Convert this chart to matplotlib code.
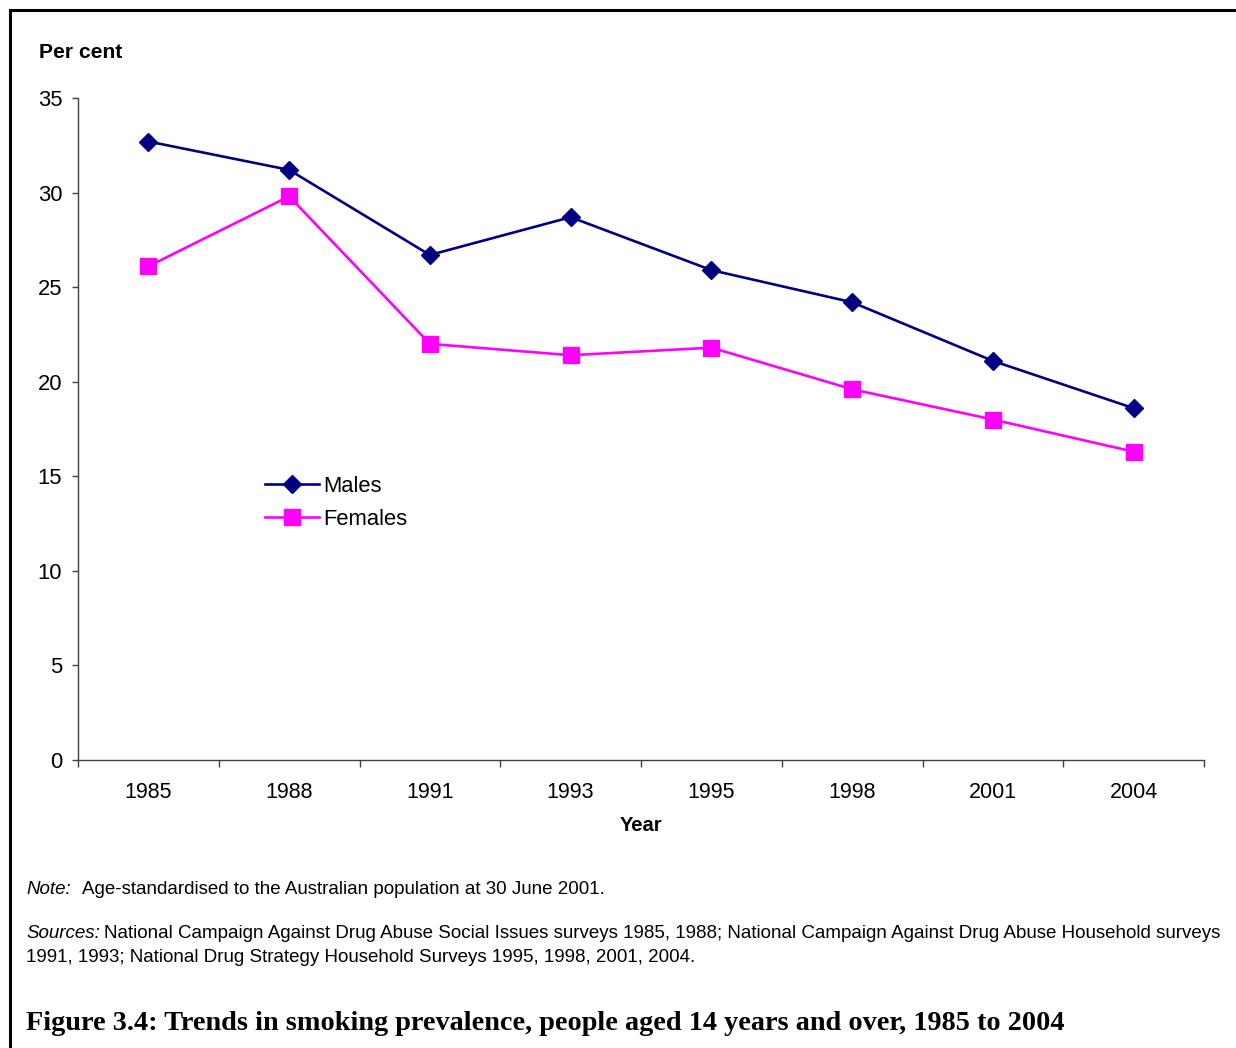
import matplotlib
matplotlib.use("Agg")
import matplotlib.pyplot as plt
from matplotlib.lines import Line2D
import numpy as np

years = ["1985", "1988", "1991", "1993", "1995", "1998", "2001", "2004"]
males = [32.7, 31.2, 26.7, 28.7, 25.9, 24.2, 21.1, 18.6]
females = [26.1, 29.8, 22.0, 21.4, 21.8, 19.6, 18.0, 16.3]
y_ticks = [0, 5, 10, 15, 20, 25, 30, 35]

plt.rcParams["font.family"] = ["Liberation Sans", "DejaVu Sans"]

W, H = 1236, 1048
fig = plt.figure(figsize=(W / 100, H / 100), dpi=100)

# Plot area in figure pixels
x0, x1 = 78, 1204
ytop, ybot = 98, 760
ax = fig.add_axes([x0 / W, 1 - ybot / H, (x1 - x0) / W, (ybot - ytop) / H])

pos = np.arange(len(years))
ax.plot(pos, males, color="#000080", lw=1.9, marker="D", ms=9,
        mfc="#000080", mec="#000080", label="Males", clip_on=False)
ax.plot(pos, females, color="#FF00FF", lw=1.9, marker="s", ms=11,
        mfc="#FF00FF", mec="#FF00FF", label="Females", clip_on=False)

ax.set_xlim(-0.5, len(years) - 0.5)
ax.set_ylim(0, 35)
ax.set_yticks(y_ticks)
ax.set_yticklabels([str(v) for v in y_ticks], fontsize=15.8)

# Category labels centred, tick marks at category boundaries
ax.set_xticks(np.arange(-0.5, len(years), 1.0))
ax.set_xticklabels([])
ax.set_xticks(pos, minor=True)
ax.set_xticklabels(years, minor=True, fontsize=15.5)
ax.tick_params(axis="x", which="minor", length=0, pad=16)
ax.tick_params(axis="x", which="major", length=5, width=1, color="#404040",
               direction="out")
ax.tick_params(axis="y", length=4.3, width=1, color="#404040", pad=7)

for s in ("top", "right"):
    ax.spines[s].set_visible(False)
for s in ("left", "bottom"):
    ax.spines[s].set_color("#404040")
    ax.spines[s].set_linewidth(1.0)

ax.set_xlabel("Year", fontsize=14.5, fontweight="bold", labelpad=9)

fig.text(39 / W, 1 - 53 / H, "Per cent", fontsize=15.2, fontweight="bold",
         va="center", ha="left")

handles = [
    Line2D([], [], color="#000080", lw=1.9, marker="D", ms=9),
    Line2D([], [], color="#FF00FF", lw=1.9, marker="s", ms=11),
]
fig.legend(handles, ["Males", "Females"], loc="upper left",
           bbox_to_anchor=(254 / W, 1 - 465 / H), frameon=False,
           fontsize=15.8, handlelength=2.45, handletextpad=0.2,
           labelspacing=0.55, borderpad=0)

# Notes beneath the chart
fs_note = 13.5
fig.text(26 / W, 1 - 889 / H, "Note:", fontsize=fs_note, style="italic",
         va="center", ha="left")
fig.text(82 / W, 1 - 889 / H, "Age-standardised to the Australian population at 30 June 2001.",
         fontsize=fs_note, va="center", ha="left")
fig.text(26 / W, 1 - 934 / H, "Sources:", fontsize=fs_note, style="italic",
         va="center", ha="left")
fig.text(104 / W, 1 - 934 / H,
         "National Campaign Against Drug Abuse Social Issues surveys 1985, 1988; "
         "National Campaign Against Drug Abuse Household surveys",
         fontsize=fs_note, va="center", ha="left")
fig.text(26 / W, 1 - 958 / H,
         "1991, 1993; National Drug Strategy Household Surveys 1995, 1998, 2001, 2004.",
         fontsize=fs_note, va="center", ha="left")

fig.text(26 / W, 1 - 1023 / H,
         "Figure 3.4: Trends in smoking prevalence, people aged 14 years and over, 1985 to 2004",
         fontsize=20.3, fontweight="bold", family=["Liberation Serif", "DejaVu Serif"],
         va="center", ha="left")

# Frame lines along the top and left edges
fig.add_artist(Line2D([10 / W, 10 / W], [0, 1 - 10 / H], transform=fig.transFigure,
                      color="black", lw=2.2, solid_capstyle="projecting"))
fig.add_artist(Line2D([10 / W, 1], [1 - 10 / H, 1 - 10 / H], transform=fig.transFigure,
                      color="black", lw=2.2, solid_capstyle="projecting"))

fig.savefig("out.png", dpi=100)
